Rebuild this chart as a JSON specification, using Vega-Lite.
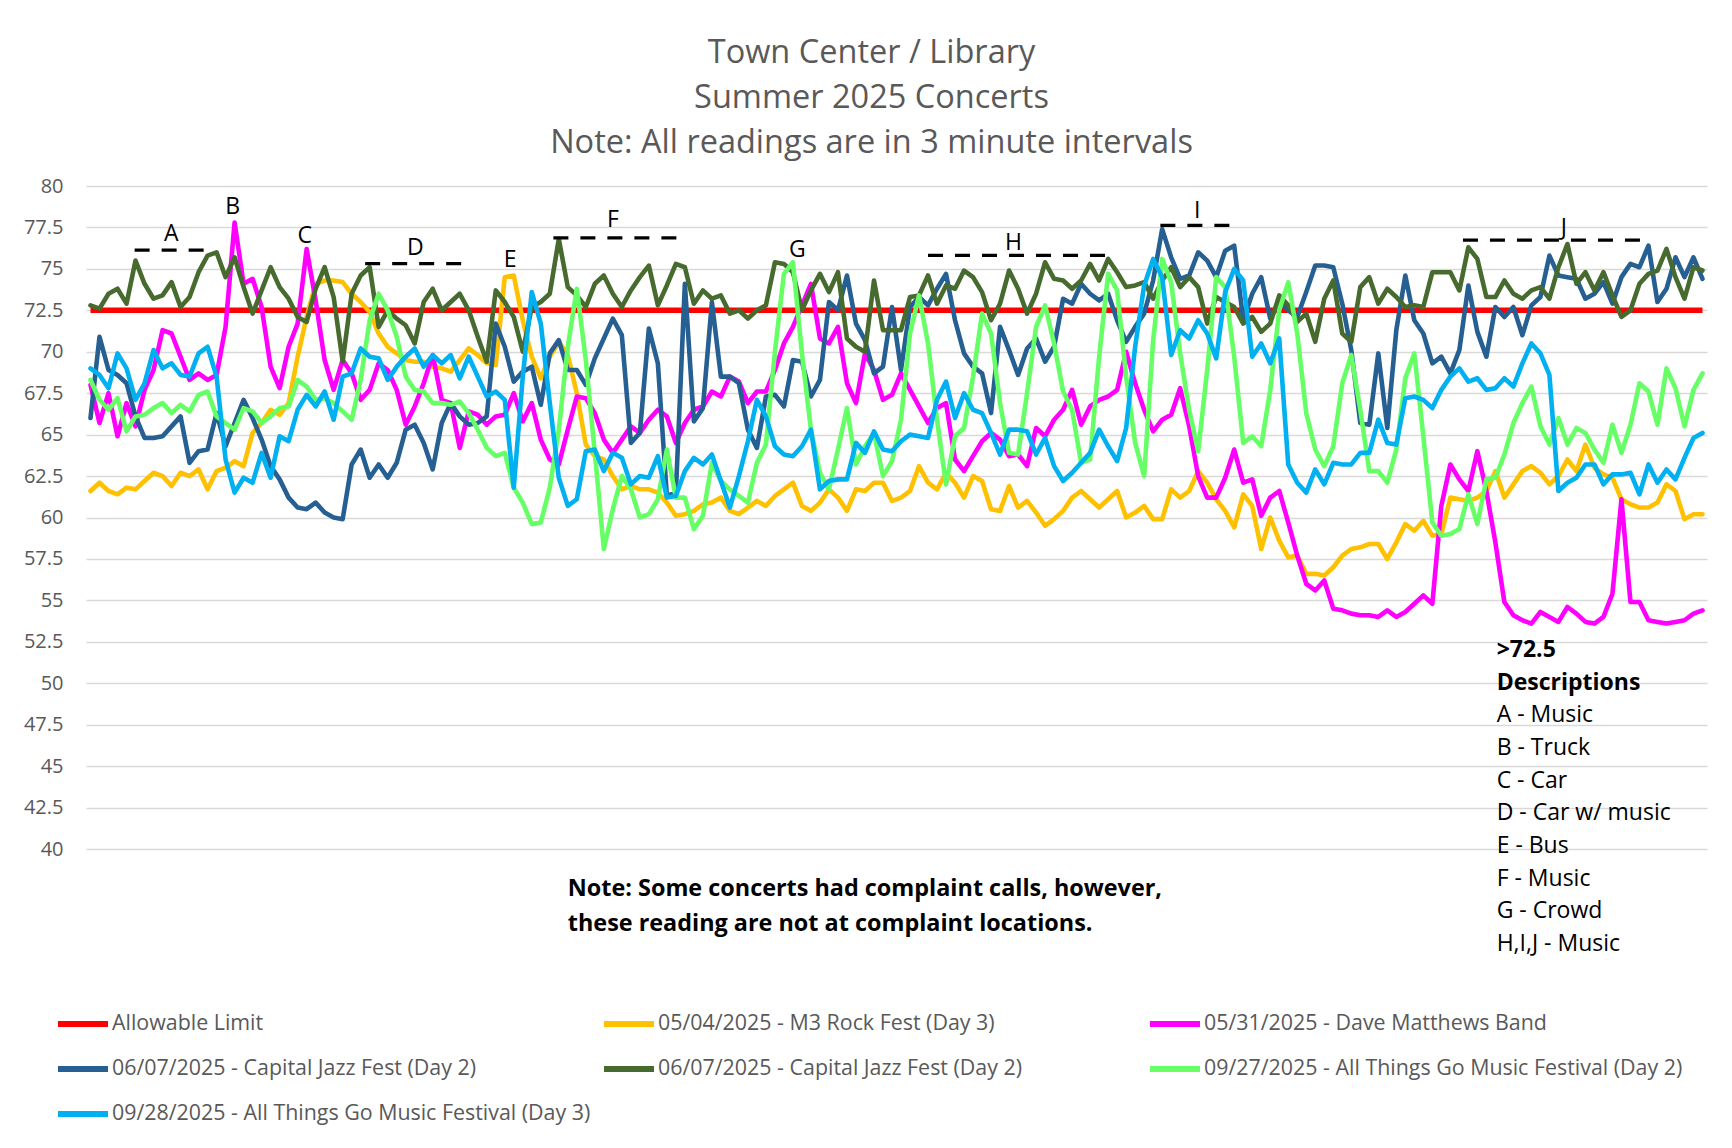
{
  "$schema": "https://vega.github.io/schema/vega-lite/v6.json",
  "width": 1621,
  "height": 663,
  "autosize": {"type": "none"},
  "padding": {"left": 86, "top": 186, "right": 25, "bottom": 299},
  "background": "white",
  "config": {"view": {"stroke": null}, "font": "Open Sans"},
  "title": {
    "text": ["Town Center / Library", "Summer 2025 Concerts", "Note: All readings are in 3 minute intervals"],
    "font": "Open Sans", "fontSize": 32.5, "fontWeight": "normal", "color": "#595959",
    "lineHeight": 45, "anchor": "middle", "dx": -25, "offset": 17
  },
  "data": {"values": [
{"t":0,"limit":72.5,"m3":61.6,"dmb":68.0,"cjf1":66.0,"cjf2":72.8,"atg2":68.3,"atg3":69.0},
{"t":1,"limit":72.5,"m3":62.1,"dmb":65.7,"cjf1":70.9,"cjf2":72.6,"atg2":67.1,"atg3":68.6},
{"t":2,"limit":72.5,"m3":61.6,"dmb":67.5,"cjf1":68.9,"cjf2":73.5,"atg2":66.5,"atg3":67.8},
{"t":3,"limit":72.5,"m3":61.4,"dmb":64.9,"cjf1":68.6,"cjf2":73.8,"atg2":67.2,"atg3":69.9},
{"t":4,"limit":72.5,"m3":61.8,"dmb":66.9,"cjf1":68.1,"cjf2":72.9,"atg2":65.2,"atg3":69.0},
{"t":5,"limit":72.5,"m3":61.7,"dmb":65.5,"cjf1":66.1,"cjf2":75.5,"atg2":66.1,"atg3":67.1},
{"t":6,"limit":72.5,"m3":62.2,"dmb":67.7,"cjf1":64.8,"cjf2":74.1,"atg2":66.2,"atg3":68.1},
{"t":7,"limit":72.5,"m3":62.7,"dmb":68.9,"cjf1":64.8,"cjf2":73.2,"atg2":66.6,"atg3":70.1},
{"t":8,"limit":72.5,"m3":62.5,"dmb":71.3,"cjf1":64.9,"cjf2":73.4,"atg2":66.9,"atg3":69.0},
{"t":9,"limit":72.5,"m3":61.9,"dmb":71.1,"cjf1":65.5,"cjf2":74.2,"atg2":66.3,"atg3":69.3},
{"t":10,"limit":72.5,"m3":62.7,"dmb":69.7,"cjf1":66.1,"cjf2":72.7,"atg2":66.8,"atg3":68.6},
{"t":11,"limit":72.5,"m3":62.5,"dmb":68.3,"cjf1":63.3,"cjf2":73.3,"atg2":66.4,"atg3":68.5},
{"t":12,"limit":72.5,"m3":62.9,"dmb":68.7,"cjf1":64.0,"cjf2":74.8,"atg2":67.4,"atg3":69.9},
{"t":13,"limit":72.5,"m3":61.7,"dmb":68.3,"cjf1":64.1,"cjf2":75.8,"atg2":67.6,"atg3":70.3},
{"t":14,"limit":72.5,"m3":62.8,"dmb":68.6,"cjf1":66.3,"cjf2":76.0,"atg2":66.1,"atg3":68.5},
{"t":15,"limit":72.5,"m3":63.0,"dmb":71.5,"cjf1":64.3,"cjf2":74.5,"atg2":65.7,"atg3":63.5},
{"t":16,"limit":72.5,"m3":63.4,"dmb":77.8,"cjf1":65.7,"cjf2":75.7,"atg2":65.3,"atg3":61.5},
{"t":17,"limit":72.5,"m3":63.1,"dmb":74.1,"cjf1":67.1,"cjf2":73.9,"atg2":66.6,"atg3":62.4},
{"t":18,"limit":72.5,"m3":65.1,"dmb":74.4,"cjf1":66.0,"cjf2":72.3,"atg2":66.4,"atg3":62.1},
{"t":19,"limit":72.5,"m3":65.7,"dmb":72.7,"cjf1":64.7,"cjf2":73.7,"atg2":65.7,"atg3":63.9},
{"t":20,"limit":72.5,"m3":66.5,"dmb":69.1,"cjf1":63.1,"cjf2":75.1,"atg2":66.1,"atg3":62.4},
{"t":21,"limit":72.5,"m3":66.2,"dmb":67.8,"cjf1":62.3,"cjf2":73.9,"atg2":66.6,"atg3":64.9},
{"t":22,"limit":72.5,"m3":66.9,"dmb":70.3,"cjf1":61.2,"cjf2":73.2,"atg2":66.7,"atg3":64.6},
{"t":23,"limit":72.5,"m3":69.7,"dmb":71.7,"cjf1":60.6,"cjf2":72.1,"atg2":68.3,"atg3":66.5},
{"t":24,"limit":72.5,"m3":72.1,"dmb":76.2,"cjf1":60.5,"cjf2":71.8,"atg2":67.9,"atg3":67.4},
{"t":25,"limit":72.5,"m3":74.1,"dmb":73.1,"cjf1":60.9,"cjf2":73.8,"atg2":67.1,"atg3":66.7},
{"t":26,"limit":72.5,"m3":74.3,"dmb":69.5,"cjf1":60.3,"cjf2":75.1,"atg2":67.2,"atg3":67.6},
{"t":27,"limit":72.5,"m3":74.3,"dmb":67.7,"cjf1":60.0,"cjf2":73.3,"atg2":66.9,"atg3":65.9},
{"t":28,"limit":72.5,"m3":74.2,"dmb":69.5,"cjf1":59.9,"cjf2":69.4,"atg2":66.4,"atg3":68.5},
{"t":29,"limit":72.5,"m3":73.5,"dmb":68.7,"cjf1":63.2,"cjf2":73.5,"atg2":65.9,"atg3":68.7},
{"t":30,"limit":72.5,"m3":73.0,"dmb":67.1,"cjf1":64.1,"cjf2":74.6,"atg2":68.3,"atg3":70.2},
{"t":31,"limit":72.5,"m3":72.4,"dmb":67.7,"cjf1":62.4,"cjf2":75.1,"atg2":71.9,"atg3":69.7},
{"t":32,"limit":72.5,"m3":71.1,"dmb":69.3,"cjf1":63.2,"cjf2":71.5,"atg2":73.5,"atg3":69.6},
{"t":33,"limit":72.5,"m3":70.3,"dmb":68.9,"cjf1":62.4,"cjf2":72.5,"atg2":72.5,"atg3":68.3},
{"t":34,"limit":72.5,"m3":69.9,"dmb":67.7,"cjf1":63.3,"cjf2":72.0,"atg2":70.9,"atg3":69.1},
{"t":35,"limit":72.5,"m3":69.5,"dmb":65.6,"cjf1":65.3,"cjf2":71.6,"atg2":68.5,"atg3":69.7},
{"t":36,"limit":72.5,"m3":69.4,"dmb":66.7,"cjf1":65.6,"cjf2":70.5,"atg2":67.7,"atg3":70.2},
{"t":37,"limit":72.5,"m3":69.4,"dmb":68.1,"cjf1":64.5,"cjf2":73.0,"atg2":67.6,"atg3":69.1},
{"t":38,"limit":72.5,"m3":69.1,"dmb":69.8,"cjf1":62.9,"cjf2":73.8,"atg2":66.9,"atg3":69.8},
{"t":39,"limit":72.5,"m3":69.0,"dmb":67.1,"cjf1":65.7,"cjf2":72.5,"atg2":66.9,"atg3":69.3},
{"t":40,"limit":72.5,"m3":68.8,"dmb":66.9,"cjf1":66.9,"cjf2":73.0,"atg2":66.8,"atg3":69.8},
{"t":41,"limit":72.5,"m3":69.5,"dmb":64.2,"cjf1":66.1,"cjf2":73.5,"atg2":67.0,"atg3":68.4},
{"t":42,"limit":72.5,"m3":70.2,"dmb":66.4,"cjf1":65.6,"cjf2":72.5,"atg2":66.3,"atg3":69.7},
{"t":43,"limit":72.5,"m3":69.8,"dmb":66.2,"cjf1":65.7,"cjf2":70.9,"atg2":65.3,"atg3":68.5},
{"t":44,"limit":72.5,"m3":69.3,"dmb":65.6,"cjf1":66.1,"cjf2":69.4,"atg2":64.2,"atg3":67.3},
{"t":45,"limit":72.5,"m3":69.2,"dmb":66.1,"cjf1":71.7,"cjf2":73.7,"atg2":63.7,"atg3":67.6},
{"t":46,"limit":72.5,"m3":74.5,"dmb":66.2,"cjf1":70.3,"cjf2":73.0,"atg2":63.9,"atg3":67.1},
{"t":47,"limit":72.5,"m3":74.6,"dmb":67.5,"cjf1":68.2,"cjf2":72.1,"atg2":61.8,"atg3":61.8},
{"t":48,"limit":72.5,"m3":71.9,"dmb":65.8,"cjf1":68.8,"cjf2":70.0,"atg2":60.9,"atg3":68.5},
{"t":49,"limit":72.5,"m3":69.7,"dmb":66.9,"cjf1":69.1,"cjf2":72.7,"atg2":59.6,"atg3":73.6},
{"t":50,"limit":72.5,"m3":68.4,"dmb":64.7,"cjf1":66.8,"cjf2":73.0,"atg2":59.7,"atg3":71.7},
{"t":51,"limit":72.5,"m3":69.7,"dmb":63.5,"cjf1":69.9,"cjf2":73.5,"atg2":61.8,"atg3":66.9},
{"t":52,"limit":72.5,"m3":70.6,"dmb":63.2,"cjf1":70.7,"cjf2":76.8,"atg2":65.3,"atg3":62.4},
{"t":53,"limit":72.5,"m3":69.8,"dmb":65.3,"cjf1":68.9,"cjf2":73.9,"atg2":70.3,"atg3":60.7},
{"t":54,"limit":72.5,"m3":67.5,"dmb":67.3,"cjf1":68.9,"cjf2":73.4,"atg2":73.8,"atg3":61.1},
{"t":55,"limit":72.5,"m3":64.4,"dmb":67.2,"cjf1":68.0,"cjf2":72.7,"atg2":69.5,"atg3":64.0},
{"t":56,"limit":72.5,"m3":63.7,"dmb":66.3,"cjf1":69.6,"cjf2":74.1,"atg2":63.9,"atg3":64.1},
{"t":57,"limit":72.5,"m3":63.5,"dmb":64.7,"cjf1":70.8,"cjf2":74.6,"atg2":58.1,"atg3":62.8},
{"t":58,"limit":72.5,"m3":62.5,"dmb":63.9,"cjf1":72.0,"cjf2":73.5,"atg2":60.5,"atg3":63.9},
{"t":59,"limit":72.5,"m3":61.7,"dmb":64.7,"cjf1":71.0,"cjf2":72.7,"atg2":62.5,"atg3":63.6},
{"t":60,"limit":72.5,"m3":61.9,"dmb":65.5,"cjf1":64.5,"cjf2":73.7,"atg2":61.7,"atg3":62.0},
{"t":61,"limit":72.5,"m3":61.7,"dmb":65.1,"cjf1":65.1,"cjf2":74.5,"atg2":60.0,"atg3":62.5},
{"t":62,"limit":72.5,"m3":61.7,"dmb":65.9,"cjf1":71.4,"cjf2":75.2,"atg2":60.2,"atg3":62.4},
{"t":63,"limit":72.5,"m3":61.5,"dmb":66.5,"cjf1":69.3,"cjf2":72.8,"atg2":61.1,"atg3":63.7},
{"t":64,"limit":72.5,"m3":60.9,"dmb":66.1,"cjf1":61.3,"cjf2":74.0,"atg2":64.1,"atg3":61.2},
{"t":65,"limit":72.5,"m3":60.1,"dmb":64.5,"cjf1":61.5,"cjf2":75.3,"atg2":61.2,"atg3":61.3},
{"t":66,"limit":72.5,"m3":60.2,"dmb":65.7,"cjf1":74.1,"cjf2":75.1,"atg2":61.2,"atg3":62.8},
{"t":67,"limit":72.5,"m3":60.4,"dmb":66.5,"cjf1":65.8,"cjf2":72.9,"atg2":59.3,"atg3":63.6},
{"t":68,"limit":72.5,"m3":60.8,"dmb":66.7,"cjf1":66.6,"cjf2":73.7,"atg2":60.1,"atg3":63.2},
{"t":69,"limit":72.5,"m3":60.9,"dmb":67.6,"cjf1":73.0,"cjf2":73.2,"atg2":63.3,"atg3":63.8},
{"t":70,"limit":72.5,"m3":61.2,"dmb":67.3,"cjf1":68.5,"cjf2":73.4,"atg2":62.2,"atg3":62.2},
{"t":71,"limit":72.5,"m3":60.4,"dmb":68.5,"cjf1":68.5,"cjf2":72.3,"atg2":61.7,"atg3":60.6},
{"t":72,"limit":72.5,"m3":60.2,"dmb":68.2,"cjf1":68.1,"cjf2":72.5,"atg2":61.3,"atg3":62.5},
{"t":73,"limit":72.5,"m3":60.6,"dmb":66.9,"cjf1":65.3,"cjf2":72.0,"atg2":60.9,"atg3":64.6},
{"t":74,"limit":72.5,"m3":61.0,"dmb":67.6,"cjf1":64.2,"cjf2":72.5,"atg2":63.3,"atg3":67.1},
{"t":75,"limit":72.5,"m3":60.7,"dmb":67.6,"cjf1":67.3,"cjf2":72.8,"atg2":64.4,"atg3":66.1},
{"t":76,"limit":72.5,"m3":61.3,"dmb":68.9,"cjf1":67.4,"cjf2":75.4,"atg2":70.0,"atg3":64.3},
{"t":77,"limit":72.5,"m3":61.7,"dmb":70.5,"cjf1":66.7,"cjf2":75.3,"atg2":74.7,"atg3":63.8},
{"t":78,"limit":72.5,"m3":62.1,"dmb":71.5,"cjf1":69.5,"cjf2":74.8,"atg2":75.4,"atg3":63.7},
{"t":79,"limit":72.5,"m3":60.7,"dmb":72.8,"cjf1":69.4,"cjf2":72.5,"atg2":69.9,"atg3":64.3},
{"t":80,"limit":72.5,"m3":60.4,"dmb":74.1,"cjf1":67.3,"cjf2":73.7,"atg2":65.3,"atg3":65.3},
{"t":81,"limit":72.5,"m3":60.9,"dmb":70.8,"cjf1":68.3,"cjf2":74.7,"atg2":62.7,"atg3":61.7},
{"t":82,"limit":72.5,"m3":61.7,"dmb":70.5,"cjf1":73.0,"cjf2":73.6,"atg2":61.7,"atg3":62.2},
{"t":83,"limit":72.5,"m3":61.2,"dmb":71.5,"cjf1":72.5,"cjf2":74.8,"atg2":64.1,"atg3":62.3},
{"t":84,"limit":72.5,"m3":60.4,"dmb":68.1,"cjf1":74.6,"cjf2":70.8,"atg2":66.6,"atg3":62.3},
{"t":85,"limit":72.5,"m3":61.7,"dmb":66.9,"cjf1":71.7,"cjf2":70.3,"atg2":63.2,"atg3":64.5},
{"t":86,"limit":72.5,"m3":61.6,"dmb":69.9,"cjf1":70.7,"cjf2":70.0,"atg2":64.3,"atg3":63.9},
{"t":87,"limit":72.5,"m3":62.1,"dmb":68.9,"cjf1":68.7,"cjf2":74.3,"atg2":65.1,"atg3":65.2},
{"t":88,"limit":72.5,"m3":62.1,"dmb":67.1,"cjf1":69.1,"cjf2":71.3,"atg2":62.5,"atg3":64.1},
{"t":89,"limit":72.5,"m3":61.0,"dmb":67.4,"cjf1":72.7,"cjf2":71.3,"atg2":63.4,"atg3":64.0},
{"t":90,"limit":72.5,"m3":61.2,"dmb":68.7,"cjf1":68.9,"cjf2":71.3,"atg2":65.9,"atg3":64.6},
{"t":91,"limit":72.5,"m3":61.6,"dmb":67.7,"cjf1":72.7,"cjf2":73.3,"atg2":71.1,"atg3":65.0},
{"t":92,"limit":72.5,"m3":63.1,"dmb":66.7,"cjf1":73.3,"cjf2":73.4,"atg2":73.4,"atg3":64.9},
{"t":93,"limit":72.5,"m3":62.1,"dmb":65.7,"cjf1":72.8,"cjf2":74.6,"atg2":70.5,"atg3":64.8},
{"t":94,"limit":72.5,"m3":61.7,"dmb":66.6,"cjf1":73.8,"cjf2":72.9,"atg2":65.9,"atg3":67.1},
{"t":95,"limit":72.5,"m3":62.7,"dmb":66.9,"cjf1":74.7,"cjf2":74.0,"atg2":62.0,"atg3":68.2},
{"t":96,"limit":72.5,"m3":62.1,"dmb":63.5,"cjf1":71.9,"cjf2":73.8,"atg2":64.9,"atg3":66.0},
{"t":97,"limit":72.5,"m3":61.2,"dmb":62.8,"cjf1":69.9,"cjf2":74.9,"atg2":65.4,"atg3":67.5},
{"t":98,"limit":72.5,"m3":62.5,"dmb":63.7,"cjf1":69.1,"cjf2":74.5,"atg2":68.5,"atg3":66.5},
{"t":99,"limit":72.5,"m3":62.2,"dmb":64.6,"cjf1":68.7,"cjf2":73.6,"atg2":72.3,"atg3":66.3},
{"t":100,"limit":72.5,"m3":60.5,"dmb":65.1,"cjf1":66.3,"cjf2":71.9,"atg2":71.1,"atg3":65.1},
{"t":101,"limit":72.5,"m3":60.4,"dmb":64.7,"cjf1":71.5,"cjf2":72.9,"atg2":66.9,"atg3":63.8},
{"t":102,"limit":72.5,"m3":61.9,"dmb":63.7,"cjf1":70.1,"cjf2":74.9,"atg2":63.9,"atg3":65.3},
{"t":103,"limit":72.5,"m3":60.6,"dmb":63.8,"cjf1":68.6,"cjf2":73.8,"atg2":63.8,"atg3":65.3},
{"t":104,"limit":72.5,"m3":61.0,"dmb":63.1,"cjf1":70.2,"cjf2":72.3,"atg2":67.5,"atg3":65.2},
{"t":105,"limit":72.5,"m3":60.3,"dmb":65.4,"cjf1":70.8,"cjf2":73.5,"atg2":71.5,"atg3":63.8},
{"t":106,"limit":72.5,"m3":59.5,"dmb":64.9,"cjf1":69.4,"cjf2":75.4,"atg2":72.8,"atg3":64.8},
{"t":107,"limit":72.5,"m3":59.9,"dmb":65.9,"cjf1":70.3,"cjf2":74.4,"atg2":70.5,"atg3":63.1},
{"t":108,"limit":72.5,"m3":60.4,"dmb":66.5,"cjf1":73.2,"cjf2":74.3,"atg2":67.6,"atg3":62.2},
{"t":109,"limit":72.5,"m3":61.2,"dmb":67.7,"cjf1":72.9,"cjf2":73.8,"atg2":66.5,"atg3":62.7},
{"t":110,"limit":72.5,"m3":61.6,"dmb":65.6,"cjf1":74.1,"cjf2":74.3,"atg2":63.3,"atg3":63.3},
{"t":111,"limit":72.5,"m3":61.1,"dmb":66.7,"cjf1":73.5,"cjf2":75.3,"atg2":63.5,"atg3":63.9},
{"t":112,"limit":72.5,"m3":60.6,"dmb":67.1,"cjf1":73.1,"cjf2":74.3,"atg2":69.7,"atg3":65.3},
{"t":113,"limit":72.5,"m3":61.1,"dmb":67.3,"cjf1":73.5,"cjf2":75.6,"atg2":74.7,"atg3":64.3},
{"t":114,"limit":72.5,"m3":61.6,"dmb":67.7,"cjf1":71.9,"cjf2":74.8,"atg2":73.7,"atg3":63.4},
{"t":115,"limit":72.5,"m3":60.0,"dmb":70.0,"cjf1":70.6,"cjf2":73.9,"atg2":68.5,"atg3":65.4},
{"t":116,"limit":72.5,"m3":60.3,"dmb":68.1,"cjf1":71.5,"cjf2":74.0,"atg2":64.5,"atg3":70.3},
{"t":117,"limit":72.5,"m3":60.7,"dmb":66.5,"cjf1":72.3,"cjf2":74.2,"atg2":62.5,"atg3":74.0},
{"t":118,"limit":72.5,"m3":59.9,"dmb":65.2,"cjf1":74.3,"cjf2":73.2,"atg2":70.7,"atg3":75.6},
{"t":119,"limit":72.5,"m3":59.9,"dmb":65.9,"cjf1":77.4,"cjf2":74.3,"atg2":75.6,"atg3":74.5},
{"t":120,"limit":72.5,"m3":61.7,"dmb":66.2,"cjf1":75.7,"cjf2":75.1,"atg2":74.2,"atg3":69.8},
{"t":121,"limit":72.5,"m3":61.2,"dmb":67.8,"cjf1":74.4,"cjf2":73.9,"atg2":69.9,"atg3":71.3},
{"t":122,"limit":72.5,"m3":61.6,"dmb":65.5,"cjf1":74.6,"cjf2":74.5,"atg2":66.5,"atg3":70.8},
{"t":123,"limit":72.5,"m3":62.8,"dmb":62.5,"cjf1":76.0,"cjf2":73.9,"atg2":64.0,"atg3":71.9},
{"t":124,"limit":72.5,"m3":62.1,"dmb":61.2,"cjf1":75.5,"cjf2":71.7,"atg2":68.9,"atg3":71.1},
{"t":125,"limit":72.5,"m3":61.1,"dmb":61.2,"cjf1":74.5,"cjf2":73.3,"atg2":74.5,"atg3":69.6},
{"t":126,"limit":72.5,"m3":60.4,"dmb":62.4,"cjf1":76.1,"cjf2":73.0,"atg2":73.9,"atg3":73.6},
{"t":127,"limit":72.5,"m3":59.4,"dmb":64.1,"cjf1":76.4,"cjf2":72.7,"atg2":69.7,"atg3":75.0},
{"t":128,"limit":72.5,"m3":61.4,"dmb":62.1,"cjf1":71.9,"cjf2":71.7,"atg2":64.5,"atg3":74.3},
{"t":129,"limit":72.5,"m3":60.7,"dmb":62.3,"cjf1":73.5,"cjf2":72.1,"atg2":64.9,"atg3":69.7},
{"t":130,"limit":72.5,"m3":58.1,"dmb":60.1,"cjf1":74.5,"cjf2":71.2,"atg2":64.3,"atg3":70.5},
{"t":131,"limit":72.5,"m3":60.0,"dmb":61.2,"cjf1":72.0,"cjf2":71.7,"atg2":67.7,"atg3":69.3},
{"t":132,"limit":72.5,"m3":58.6,"dmb":61.6,"cjf1":73.0,"cjf2":73.4,"atg2":72.5,"atg3":70.8},
{"t":133,"limit":72.5,"m3":57.6,"dmb":59.7,"cjf1":72.5,"cjf2":72.8,"atg2":74.2,"atg3":63.2},
{"t":134,"limit":72.5,"m3":57.7,"dmb":57.7,"cjf1":72.1,"cjf2":71.8,"atg2":71.1,"atg3":62.1},
{"t":135,"limit":72.5,"m3":56.6,"dmb":56.0,"cjf1":73.6,"cjf2":72.3,"atg2":66.3,"atg3":61.5},
{"t":136,"limit":72.5,"m3":56.6,"dmb":55.6,"cjf1":75.2,"cjf2":70.6,"atg2":64.1,"atg3":62.9},
{"t":137,"limit":72.5,"m3":56.5,"dmb":56.2,"cjf1":75.2,"cjf2":73.2,"atg2":63.1,"atg3":62.0},
{"t":138,"limit":72.5,"m3":57.0,"dmb":54.5,"cjf1":75.1,"cjf2":74.3,"atg2":64.3,"atg3":63.3},
{"t":139,"limit":72.5,"m3":57.7,"dmb":54.4,"cjf1":72.9,"cjf2":71.1,"atg2":68.1,"atg3":63.2},
{"t":140,"limit":72.5,"m3":58.1,"dmb":54.2,"cjf1":70.1,"cjf2":70.6,"atg2":69.8,"atg3":63.2},
{"t":141,"limit":72.5,"m3":58.2,"dmb":54.1,"cjf1":65.7,"cjf2":73.9,"atg2":66.5,"atg3":63.9},
{"t":142,"limit":72.5,"m3":58.4,"dmb":54.1,"cjf1":65.6,"cjf2":74.5,"atg2":62.8,"atg3":63.9},
{"t":143,"limit":72.5,"m3":58.4,"dmb":54.0,"cjf1":69.9,"cjf2":72.9,"atg2":62.8,"atg3":65.9},
{"t":144,"limit":72.5,"m3":57.5,"dmb":54.4,"cjf1":65.4,"cjf2":73.8,"atg2":62.1,"atg3":64.5},
{"t":145,"limit":72.5,"m3":58.5,"dmb":54.0,"cjf1":71.3,"cjf2":73.3,"atg2":64.1,"atg3":64.4},
{"t":146,"limit":72.5,"m3":59.6,"dmb":54.3,"cjf1":74.6,"cjf2":72.7,"atg2":68.4,"atg3":67.2},
{"t":147,"limit":72.5,"m3":59.2,"dmb":54.8,"cjf1":71.9,"cjf2":72.8,"atg2":69.9,"atg3":67.3},
{"t":148,"limit":72.5,"m3":59.8,"dmb":55.3,"cjf1":71.1,"cjf2":72.7,"atg2":64.9,"atg3":67.1},
{"t":149,"limit":72.5,"m3":58.9,"dmb":54.8,"cjf1":69.3,"cjf2":74.8,"atg2":59.7,"atg3":66.6},
{"t":150,"limit":72.5,"m3":59.0,"dmb":60.7,"cjf1":69.7,"cjf2":74.8,"atg2":58.9,"atg3":67.7},
{"t":151,"limit":72.5,"m3":61.2,"dmb":63.2,"cjf1":68.7,"cjf2":74.8,"atg2":59.0,"atg3":68.5},
{"t":152,"limit":72.5,"m3":61.1,"dmb":62.3,"cjf1":70.1,"cjf2":73.7,"atg2":59.3,"atg3":69.0},
{"t":153,"limit":72.5,"m3":61.0,"dmb":61.6,"cjf1":74.0,"cjf2":76.3,"atg2":61.4,"atg3":68.2},
{"t":154,"limit":72.5,"m3":61.2,"dmb":64.0,"cjf1":71.2,"cjf2":75.6,"atg2":59.6,"atg3":68.4},
{"t":155,"limit":72.5,"m3":61.6,"dmb":61.6,"cjf1":69.7,"cjf2":73.3,"atg2":62.3,"atg3":67.7},
{"t":156,"limit":72.5,"m3":62.8,"dmb":58.5,"cjf1":72.7,"cjf2":73.3,"atg2":62.4,"atg3":67.8},
{"t":157,"limit":72.5,"m3":61.2,"dmb":54.9,"cjf1":72.1,"cjf2":74.3,"atg2":63.8,"atg3":68.4},
{"t":158,"limit":72.5,"m3":62.0,"dmb":54.1,"cjf1":72.7,"cjf2":73.5,"atg2":65.7,"atg3":67.9},
{"t":159,"limit":72.5,"m3":62.8,"dmb":53.8,"cjf1":71.0,"cjf2":73.2,"atg2":66.9,"atg3":69.3},
{"t":160,"limit":72.5,"m3":63.1,"dmb":53.6,"cjf1":72.8,"cjf2":73.7,"atg2":67.9,"atg3":70.5},
{"t":161,"limit":72.5,"m3":62.7,"dmb":54.3,"cjf1":73.3,"cjf2":73.9,"atg2":65.5,"atg3":69.9},
{"t":162,"limit":72.5,"m3":62.0,"dmb":54.0,"cjf1":75.8,"cjf2":73.2,"atg2":64.4,"atg3":68.6},
{"t":163,"limit":72.5,"m3":62.5,"dmb":53.7,"cjf1":74.6,"cjf2":75.1,"atg2":66.0,"atg3":61.6},
{"t":164,"limit":72.5,"m3":63.5,"dmb":54.6,"cjf1":74.5,"cjf2":76.5,"atg2":64.4,"atg3":62.1},
{"t":165,"limit":72.5,"m3":62.8,"dmb":54.2,"cjf1":74.4,"cjf2":74.1,"atg2":65.4,"atg3":62.4},
{"t":166,"limit":72.5,"m3":64.4,"dmb":53.7,"cjf1":73.2,"cjf2":74.8,"atg2":65.1,"atg3":63.2},
{"t":167,"limit":72.5,"m3":63.0,"dmb":53.6,"cjf1":73.5,"cjf2":73.7,"atg2":64.1,"atg3":63.2},
{"t":168,"limit":72.5,"m3":62.6,"dmb":54.0,"cjf1":74.2,"cjf2":74.8,"atg2":63.3,"atg3":62.0},
{"t":169,"limit":72.5,"m3":62.4,"dmb":55.4,"cjf1":72.9,"cjf2":73.4,"atg2":65.6,"atg3":62.6},
{"t":170,"limit":72.5,"m3":61.1,"dmb":61.1,"cjf1":74.5,"cjf2":72.1,"atg2":63.9,"atg3":62.6},
{"t":171,"limit":72.5,"m3":60.8,"dmb":54.9,"cjf1":75.3,"cjf2":72.5,"atg2":65.6,"atg3":62.7},
{"t":172,"limit":72.5,"m3":60.6,"dmb":54.9,"cjf1":75.1,"cjf2":74.1,"atg2":68.1,"atg3":61.4},
{"t":173,"limit":72.5,"m3":60.6,"dmb":53.8,"cjf1":76.4,"cjf2":74.7,"atg2":67.6,"atg3":63.2},
{"t":174,"limit":72.5,"m3":60.9,"dmb":53.7,"cjf1":73.0,"cjf2":74.9,"atg2":65.6,"atg3":62.1},
{"t":175,"limit":72.5,"m3":62.0,"dmb":53.6,"cjf1":73.8,"cjf2":76.2,"atg2":69.0,"atg3":62.9},
{"t":176,"limit":72.5,"m3":61.6,"dmb":53.7,"cjf1":75.7,"cjf2":74.5,"atg2":67.8,"atg3":62.3},
{"t":177,"limit":72.5,"m3":59.9,"dmb":53.8,"cjf1":74.5,"cjf2":73.2,"atg2":65.5,"atg3":63.6},
{"t":178,"limit":72.5,"m3":60.2,"dmb":54.2,"cjf1":75.7,"cjf2":75.1,"atg2":67.7,"atg3":64.8},
{"t":179,"limit":72.5,"m3":60.2,"dmb":54.4,"cjf1":74.4,"cjf2":74.9,"atg2":68.7,"atg3":65.1}
  ]},
  "encoding": {
    "x": {"field": "t", "type": "quantitative", "scale": {"domain": [-0.5, 179.5], "nice": false, "zero": false}, "axis": null},
    "y": {"field": "db", "type": "quantitative", "scale": {"domain": [40, 80], "nice": false, "zero": false},
      "axis": {"values": [40, 42.5, 45, 47.5, 50, 52.5, 55, 57.5, 60, 62.5, 65, 67.5, 70, 72.5, 75, 77.5, 80],
        "format": ".1~f", "title": null, "grid": true, "gridColor": "#D9D9D9", "gridWidth": 1.6,
        "domain": false, "ticks": false, "tickSize": 0, "labelPadding": 23, "labelFont": "Open Sans",
        "labelFontSize": 20, "labelColor": "#595959"}}
  },
  "layer": [
    {
      "transform": [{"fold": ["limit"], "as": ["series", "db"]}],
      "mark": {"type": "line", "strokeWidth": 5.5},
      "encoding": {
        "color": {"field": "series", "type": "nominal",
          "scale": {"domain": ["limit", "m3", "dmb", "cjf1", "cjf2", "atg2", "atg3"],
                    "range": ["#FF0000", "#FFC000", "#FF00FF", "#265F91", "#476B2E", "#66FF66", "#00B0F0"]},
          "legend": {"orient": "none", "legendX": -31, "legendY": 810, "columns": 3, "gridAlign": "all",
            "direction": "horizontal", "symbolType": "stroke", "symbolSize": 2500, "symbolStrokeWidth": 6,
            "labelFont": "Open Sans", "labelFontSize": 21.4, "labelColor": "#595959", "labelLimit": 700,
            "labelOffset": 1, "columnPadding": 1, "rowPadding": 5, "title": null, "padding": 0,
            "labelExpr": "datum.label == 'limit' ? 'Allowable Limit' : datum.label == 'm3' ? '05/04/2025 - M3 Rock Fest (Day 3)' : datum.label == 'dmb' ? '05/31/2025 - Dave Matthews Band' : datum.label == 'cjf1' ? '06/07/2025 - Capital Jazz Fest (Day 2)' : datum.label == 'cjf2' ? '06/07/2025 - Capital Jazz Fest (Day 2)' : datum.label == 'atg2' ? '09/27/2025 - All Things Go Music Festival (Day 2)' : '09/28/2025 - All Things Go Music Festival (Day 3)'"}
        }
      }
    },
    {
      "transform": [{"fold": ["m3", "dmb", "cjf1", "cjf2", "atg2", "atg3"], "as": ["series", "db"]}],
      "mark": {"type": "line", "strokeWidth": 4.6, "strokeJoin": "round", "strokeCap": "round"},
      "encoding": {"color": {"field": "series", "type": "nominal"}}
    },
    {
      "data": {"values": [
        {"t": 4.9, "t2": 12.9, "db": 76.13},
        {"t": 30.5, "t2": 41.2, "db": 75.32},
        {"t": 51.4, "t2": 65.5, "db": 76.87},
        {"t": 93.0, "t2": 113.0, "db": 75.81},
        {"t": 118.8, "t2": 126.5, "db": 77.62},
        {"t": 152.4, "t2": 172.8, "db": 76.73}
      ]},
      "mark": {"type": "rule", "color": "black", "strokeWidth": 3.2, "strokeDash": [15, 12]},
      "encoding": {"x2": {"field": "t2"}}
    },
    {
      "data": {"values": [
        {"t": 8.96, "db": 77.12, "label": "A"},
        {"t": 15.8, "db": 78.72, "label": "B"},
        {"t": 23.8, "db": 76.99, "label": "C"},
        {"t": 36.07, "db": 76.26, "label": "D"},
        {"t": 46.6, "db": 75.52, "label": "E"},
        {"t": 58.0, "db": 77.92, "label": "F"},
        {"t": 78.5, "db": 76.13, "label": "G"},
        {"t": 102.5, "db": 76.59, "label": "H"},
        {"t": 122.9, "db": 78.52, "label": "I"},
        {"t": 163.6, "db": 77.45, "label": "J"}
      ]},
      "mark": {"type": "text", "font": "Open Sans", "fontSize": 23, "color": "black", "align": "center", "baseline": "middle"},
      "encoding": {"text": {"field": "label"}}
    },
    {
      "data": {"values": [
        {"t": 156.14, "db": 52.0, "label": ">72.5"},
        {"t": 156.14, "db": 50.03, "label": "Descriptions"}
      ]},
      "mark": {"type": "text", "font": "Open Sans", "fontSize": 23, "fontWeight": "bold", "color": "black", "align": "left", "baseline": "middle"},
      "encoding": {"text": {"field": "label"}}
    },
    {
      "data": {"values": [
        {"t": 156.14, "db": 48.06, "label": "A - Music"},
        {"t": 156.14, "db": 46.09, "label": "B - Truck"},
        {"t": 156.14, "db": 44.12, "label": "C - Car"},
        {"t": 156.14, "db": 42.15, "label": "D - Car w/ music"},
        {"t": 156.14, "db": 40.18, "label": "E - Bus"},
        {"t": 156.14, "db": 38.21, "label": "F - Music"},
        {"t": 156.14, "db": 36.24, "label": "G - Crowd"},
        {"t": 156.14, "db": 34.27, "label": "H,I,J - Music"}
      ]},
      "mark": {"type": "text", "font": "Open Sans", "fontSize": 23, "color": "black", "align": "left", "baseline": "middle"},
      "encoding": {"text": {"field": "label"}}
    },
    {
      "data": {"values": [
        {"t": 53.0, "db": 37.6, "label": "Note: Some concerts had complaint calls, however,"},
        {"t": 53.0, "db": 35.47, "label": "these reading are not at complaint locations."}
      ]},
      "mark": {"type": "text", "font": "Open Sans", "fontSize": 23.4, "fontWeight": "bold", "color": "black", "align": "left", "baseline": "middle"},
      "encoding": {"text": {"field": "label"}}
    }
  ]
}
